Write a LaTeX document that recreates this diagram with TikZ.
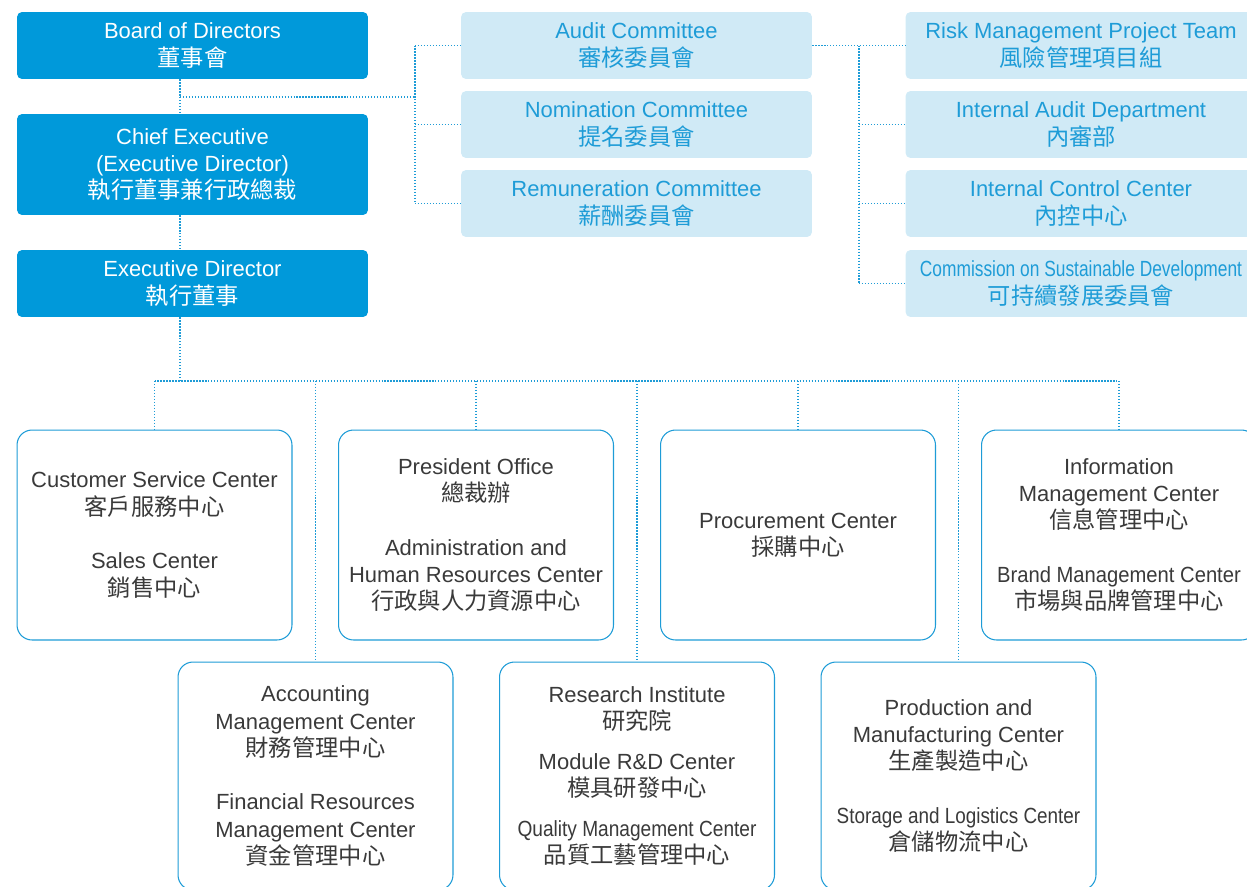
\documentclass[tikz,border=0pt]{standalone}
\usepackage{fontspec}
\setmainfont{Liberation Sans}
\newfontfamily\cjk[Scale=1.06]{Noto Sans CJK TC}

\definecolor{hkblue}{HTML}{0099DA}
\definecolor{hklight}{HTML}{D0EAF6}
\definecolor{hktext}{HTML}{1E9CD7}
\definecolor{hkgray}{HTML}{3A3A3A}

\newcommand\zh[1]{{\cjk #1}}
\newcommand\squeeze[2]{\scalebox{#1}[1]{#2}}

\tikzset{
  every node/.style={font=\fontsize{12.5}{15.5}\selectfont},
  board/.style={fill=hkblue, text=white, rounded corners=0.1cm, minimum width=7.02cm, minimum height=1.34cm, align=center, inner sep=0pt},
  committee/.style={fill=hklight, text=hktext, rounded corners=0.1cm, minimum width=7.02cm, minimum height=1.34cm, align=center, inner sep=0pt},
  dept/.style={draw=hktext, line width=0.6pt, fill=white, text=hkgray, rounded corners=0.3cm, minimum width=5.5cm, minimum height=4.2cm, align=center, inner sep=0pt},
  link/.style={hktext, densely dotted, line width=0.7pt}
}

\begin{document}
\begin{tikzpicture}[x=0.02cm, y=-0.02cm]

\useasboundingbox (0,0) rectangle (1247,886);
\clip (0,0) rectangle (1247,886);

\node [board] (board) at (192.5,45.5) {Board of Directors\\\zh{董事會}};
\node [board, minimum height=2.02cm] (chief) at (192.5,164.5) {Chief Executive\\(Executive Director)\\\zh{執行董事兼行政總裁}};
\node [board] (ed) at (192.5,283.5) {Executive Director\\\zh{執行董事}};

\node [committee] (audit) at (636.5,45.5) {Audit Committee\\\zh{審核委員會}};
\node [committee] (nomin) at (636.5,124.5) {Nomination Committee\\\zh{提名委員會}};
\node [committee] (remun) at (636.5,203.5) {Remuneration Committee\\\zh{薪酬委員會}};

\node [committee] (risk) at (1081,45.5) {Risk Management Project Team\\\zh{風險管理項目組}};
\node [committee] (iad) at (1081,124.5) {Internal Audit Department\\\zh{內審部}};
\node [committee] (icc) at (1081,203.5) {Internal Control Center\\\zh{內控中心}};
\node [committee] (csd) at (1081,283.5) {\squeeze{0.79}{Commission on Sustainable Development}\\\zh{可持續發展委員會}};

\node [dept] (csc) at (154.5,535) {Customer Service Center\\\zh{客戶服務中心}\\[15pt]Sales Center\\\zh{銷售中心}};
\node [dept] (pres) at (476,535) {President Office\\\zh{總裁辦}\\[15pt]Administration and\\Human Resources Center\\\zh{行政與人力資源中心}};
\node [dept] (proc) at (798,535) {Procurement Center\\\zh{採購中心}};
\node [dept] (info) at (1119,535) {Information\\Management Center\\\zh{信息管理中心}\\[15pt]\squeeze{0.92}{Brand Management Center}\\\zh{市場與品牌管理中心}};

\node [dept, minimum height=4.56cm] (acct) at (315.5,776) {Accounting\\Management Center\\\zh{財務管理中心}\\[15pt]Financial Resources\\Management Center\\\zh{資金管理中心}};
\node [dept, minimum height=4.56cm] (res) at (637,776) {Research Institute\\\zh{研究院}\\[7pt]Module R\&D Center\\\zh{模具研發中心}\\[7pt]\squeeze{0.87}{Quality Management Center}\\\zh{品質工藝管理中心}};
\node [dept, minimum height=4.56cm] (prod) at (958.5,776) {Production and\\Manufacturing Center\\\zh{生產製造中心}\\[15pt]\squeeze{0.86}{Storage and Logistics Center}\\\zh{倉儲物流中心}};

\coordinate (spine) at (180,97);
\coordinate (cbus) at (415,97);
\coordinate (rbus) at (859,45.5);
\coordinate (bus) at (180,381);

\draw [link] (board.south -| spine) -- (chief.north -| spine);
\draw [link] (chief.south -| spine) -- (ed.north -| spine);
\draw [link] (ed.south -| spine) -- (bus);

\draw [link] (spine) -- (cbus);
\draw [link] (audit.west -| cbus) -- (remun.west -| cbus);
\foreach \c in {audit,nomin,remun}
  \draw [link] (\c.west -| cbus) -- (\c.west);

\draw [link] (audit.east) -- (risk.west);
\draw [link] (risk.west -| rbus) -- (csd.west -| rbus);
\foreach \c in {iad,icc,csd}
  \draw [link] (\c.west -| rbus) -- (\c.west);

\draw [link] (csc.north |- bus) -- (info.north |- bus);
\foreach \c in {csc,acct,pres,res,proc,prod,info}
  \draw [link] (\c.north |- bus) -- (\c.north);

\end{tikzpicture}
\end{document}
